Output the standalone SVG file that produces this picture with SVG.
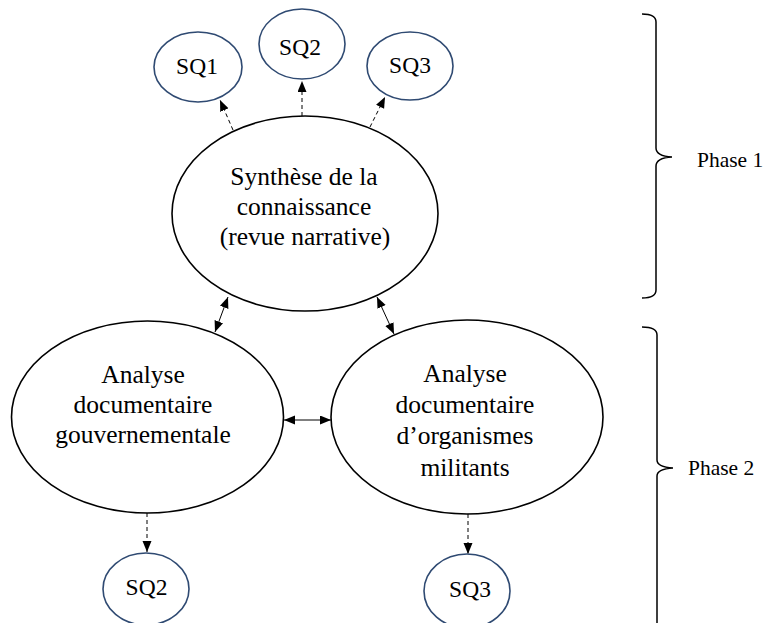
<svg xmlns="http://www.w3.org/2000/svg" width="774" height="623" viewBox="0 0 774 623">
  <style>
    .big { fill: #fff; stroke: #000; stroke-width: 1.6; }
    .sq { fill: #fff; stroke: #2F4A72; stroke-width: 1.6; }
    .t { font-family: "Liberation Serif", "Times New Roman", serif; font-size: 25.5px; fill: #000; text-anchor: middle; }
    .ts { font-family: "Liberation Serif", "Times New Roman", serif; font-size: 23.5px; fill: #000; text-anchor: middle; }
    .tp { font-family: "Liberation Serif", "Times New Roman", serif; font-size: 21.5px; fill: #000; }
    .dash { stroke: #000; stroke-width: 1; stroke-dasharray: 4 3; fill: none; marker-end: url(#ah); }
    .dbl { stroke: #000; stroke-width: 1; fill: none; marker-start: url(#ah2); marker-end: url(#ah2); }
    .brace { stroke: #000; stroke-width: 1.5; fill: none; }
  </style>
  <defs>
    <marker id="ah" markerUnits="userSpaceOnUse" markerWidth="12" markerHeight="10" refX="11" refY="4.5" orient="auto">
      <path d="M0,0 L11,4.5 L0,9 z" fill="#000"/>
    </marker>
    <marker id="ah2" markerUnits="userSpaceOnUse" markerWidth="12" markerHeight="10" refX="11" refY="4.5" orient="auto-start-reverse">
      <path d="M0,0 L11,4.5 L0,9 z" fill="#000"/>
    </marker>
  </defs>

  <g id="synthese">
    <ellipse class="big" cx="305" cy="213.5" rx="133" ry="97.5"/>
    <text class="t" x="304" y="185">Synthèse de la</text>
    <text class="t" x="304" y="215">connaissance</text>
    <text class="t" x="305" y="245">(revue narrative)</text>
  </g>

  <g id="gouv">
    <ellipse class="big" cx="147.5" cy="417" rx="136" ry="96"/>
    <text class="t" x="143" y="383">Analyse</text>
    <text class="t" x="143" y="413">documentaire</text>
    <text class="t" x="143" y="443">gouvernementale</text>
  </g>

  <g id="militants">
    <ellipse class="big" cx="467" cy="417" rx="136" ry="97"/>
    <text class="t" x="465" y="382">Analyse</text>
    <text class="t" x="465" y="413">documentaire</text>
    <text class="t" x="465" y="444">d’organismes</text>
    <text class="t" x="465" y="476">militants</text>
  </g>

  <g id="sq1-top">
    <ellipse class="sq" cx="198" cy="67" rx="44" ry="35"/>
    <text class="ts" x="197" y="74">SQ1</text>
  </g>
  <g id="sq2-top">
    <ellipse class="sq" cx="302" cy="44" rx="43" ry="35"/>
    <text class="ts" x="300" y="55">SQ2</text>
  </g>
  <g id="sq3-top">
    <ellipse class="sq" cx="410" cy="66" rx="43" ry="34"/>
    <text class="ts" x="410" y="73">SQ3</text>
  </g>
  <g id="sq2-bottom">
    <ellipse class="sq" cx="146" cy="589" rx="43" ry="36"/>
    <text class="ts" x="146.5" y="595">SQ2</text>
  </g>
  <g id="sq3-bottom">
    <ellipse class="sq" cx="467" cy="591" rx="43" ry="37"/>
    <text class="ts" x="470" y="597">SQ3</text>
  </g>

  <g id="connectors">
    <line class="dash" x1="233" y1="130" x2="220" y2="100"/>
    <line class="dash" x1="302" y1="116" x2="302" y2="81"/>
    <line class="dash" x1="370" y1="127" x2="385" y2="97"/>
    <line class="dash" x1="147" y1="513" x2="147" y2="552"/>
    <line class="dash" x1="468" y1="514" x2="468" y2="554"/>
    <line class="dbl" x1="228" y1="297" x2="215" y2="332"/>
    <line class="dbl" x1="377" y1="297" x2="394" y2="334"/>
    <line class="dbl" x1="284" y1="420" x2="331" y2="420"/>
  </g>

  <g id="phase1">
    <path class="brace" d="M642,14 Q656,14 656,22 L656,148 Q656,156 672,157 Q656,158 656,166 L656,290 Q656,298 642,298"/>
    <text class="tp" x="697" y="167">Phase 1</text>
  </g>
  <g id="phase2">
    <path class="brace" d="M642,327 Q657,327 657,335 L657,460 Q657,467 673,468 Q657,469 657,476 L657,630"/>
    <text class="tp" x="688" y="475">Phase 2</text>
  </g>
</svg>
